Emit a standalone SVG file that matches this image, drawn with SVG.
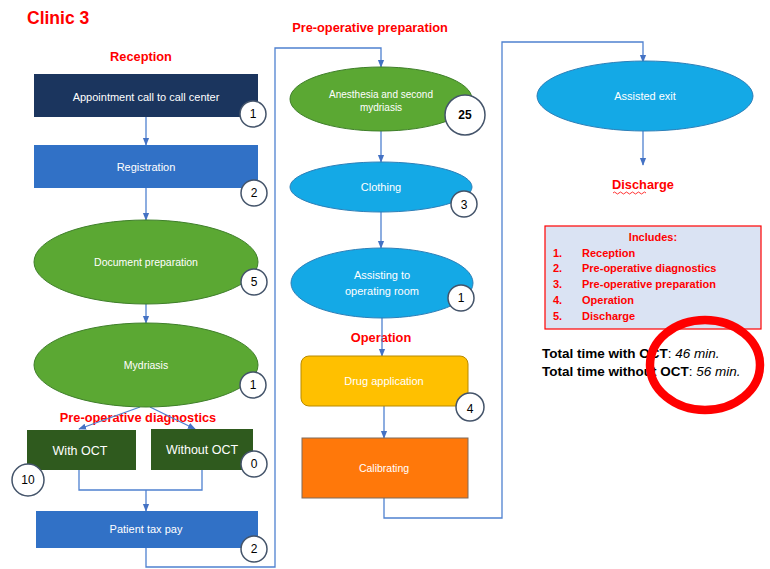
<svg xmlns="http://www.w3.org/2000/svg" width="770" height="569" viewBox="0 0 770 569">
<defs>
<marker id="ah" viewBox="0 0 10 10" refX="9" refY="5" markerWidth="6" markerHeight="6" orient="auto"><path d="M0,1 L10,5 L0,9 z" fill="#4472C4"/></marker>
<style>
.c{fill:none;stroke:#4F81D0;stroke-width:1.3}
.lbl{font-family:"Liberation Sans",Arial,sans-serif;fill:#ffffff;text-anchor:middle}
.sec{font-family:"Liberation Sans",Arial,sans-serif;fill:#FF0000;font-weight:bold;font-size:12.8px;text-anchor:middle}
.b{fill:#ffffff;stroke:#44546A;stroke-width:1.5}
.bt{font-family:"Liberation Sans",Arial,sans-serif;font-size:12px;fill:#000;text-anchor:middle}
.inc{font-family:"Liberation Sans",Arial,sans-serif;font-size:11px;font-weight:bold;fill:#FF0000}
.tot{font-family:"Liberation Sans",Arial,sans-serif;font-size:13.5px;font-weight:bold;fill:#000}
</style>
</defs>
<rect width="770" height="569" fill="#ffffff"/>
<text x="27" y="24" font-family="Liberation Sans,Arial,sans-serif" font-size="17.5" font-weight="bold" fill="#FF0000">Clinic 3</text>
<text class="sec" x="141" y="61">Reception</text>
<text class="sec" x="138" y="422">Pre-operative diagnostics</text>
<text class="sec" x="370" y="32">Pre-operative preparation</text>
<text class="sec" x="381" y="342">Operation</text>
<g id="discharge-label"><text class="sec" x="643" y="189">Discharge</text>
<path d="M613,193 q1.5,-2 3,0 t3,0 t3,0 t3,0 t3,0 t3,0 t3,0 t3,0 t3,0 t3,0 t3,0" fill="none" stroke="#FF0000" stroke-width="0.8"/></g>

<g id="connectors">
<line class="c" x1="146" y1="117" x2="146" y2="145" marker-end="url(#ah)"/>
<line class="c" x1="146" y1="188" x2="146" y2="220" marker-end="url(#ah)"/>
<line class="c" x1="146" y1="304" x2="146" y2="323" marker-end="url(#ah)"/>
<line class="c" x1="140" y1="407" x2="79" y2="429" marker-end="url(#ah)"/>
<line class="c" x1="150" y1="407" x2="195" y2="429" marker-end="url(#ah)"/>
<polyline class="c" points="79,470 79,490 202,490 202,470"/>
<line class="c" x1="146" y1="490" x2="146" y2="511" marker-end="url(#ah)"/>
<polyline class="c" points="146,548 146,567 275,567 275,48 381,48 381,67" marker-end="url(#ah)"/>
<line class="c" x1="381" y1="131" x2="381" y2="162" marker-end="url(#ah)"/>
<line class="c" x1="381" y1="212" x2="381" y2="248" marker-end="url(#ah)"/>
<line class="c" x1="382" y1="318" x2="382" y2="356" marker-end="url(#ah)"/>
<line class="c" x1="384" y1="406" x2="384" y2="438" marker-end="url(#ah)"/>
<polyline class="c" points="384,498 384,518 502,518 502,42 643,42 643,62" marker-end="url(#ah)"/>
<line class="c" x1="643" y1="131" x2="643" y2="165" marker-end="url(#ah)"/>
</g>

<g id="n-appointment">
<rect x="34" y="74" width="224" height="43" fill="#1B355E"/>
<text class="lbl" x="146" y="101" font-size="11">Appointment call to call center</text>
<circle class="b" cx="253" cy="114" r="13"/><text class="bt" x="253" y="118">1</text>
</g>
<g id="n-registration">
<rect x="34" y="145" width="224" height="43" fill="#3171C6"/>
<text class="lbl" x="146" y="171" font-size="11">Registration</text>
<circle class="b" cx="254" cy="193" r="13"/><text class="bt" x="254" y="197">2</text>
</g>
<g id="n-document">
<ellipse cx="146" cy="262" rx="112" ry="42" fill="#5BA833" stroke="#3F7F2A" stroke-width="1"/>
<text class="lbl" x="146" y="266" font-size="10.5">Document preparation</text>
<circle class="b" cx="254" cy="282" r="13"/><text class="bt" x="254" y="286">5</text>
</g>
<g id="n-mydriasis">
<ellipse cx="146" cy="365" rx="112" ry="42" fill="#5BA833" stroke="#3F7F2A" stroke-width="1"/>
<text class="lbl" x="146" y="369" font-size="10.5">Mydriasis</text>
<circle class="b" cx="253" cy="385" r="13"/><text class="bt" x="253" y="389">1</text>
</g>
<g id="n-with-oct">
<rect x="27" y="430" width="109" height="40" fill="#2F5A1E"/>
<text class="lbl" x="80" y="455" font-size="12.5">With OCT</text>
<circle class="b" cx="28" cy="480" r="16"/><text class="bt" x="28" y="484" font-size="11">10</text>
</g>
<g id="n-without-oct">
<rect x="151" y="429" width="102" height="41" fill="#2F5A1E"/>
<text class="lbl" x="202" y="454" font-size="12.5">Without OCT</text>
<circle class="b" cx="254" cy="464" r="13"/><text class="bt" x="254" y="468">0</text>
</g>
<g id="n-tax">
<rect x="36" y="511" width="222" height="37" fill="#3171C6"/>
<text class="lbl" x="146" y="533" font-size="11">Patient tax pay</text>
<circle class="b" cx="254" cy="549" r="13"/><text class="bt" x="254" y="553">2</text>
</g>
<g id="n-anesthesia">
<ellipse cx="381" cy="99" rx="91" ry="32" fill="#5BA833" stroke="#3F7F2A" stroke-width="1"/>
<text class="lbl" x="381" y="98" font-size="10">Anesthesia and second</text>
<text class="lbl" x="381" y="111" font-size="10">mydriasis</text>
<circle class="b" cx="465" cy="115" r="20"/><text class="bt" x="465" y="119" font-size="11" font-weight="bold">25</text>
</g>
<g id="n-clothing">
<ellipse cx="381" cy="187" rx="91" ry="25" fill="#14A9E6" stroke="#2C7FB8" stroke-width="1"/>
<text class="lbl" x="381" y="191" font-size="11">Clothing</text>
<circle class="b" cx="464" cy="204" r="13"/><text class="bt" x="464" y="209" font-size="14">3</text>
</g>
<g id="n-assisting">
<ellipse cx="382" cy="283" rx="91" ry="35" fill="#14A9E6" stroke="#2C7FB8" stroke-width="1"/>
<text class="lbl" x="382" y="279" font-size="11">Assisting to</text>
<text class="lbl" x="382" y="295" font-size="11">operating room</text>
<circle class="b" cx="461" cy="298" r="13"/><text class="bt" x="461" y="302">1</text>
</g>
<g id="n-drug">
<rect x="301" y="356" width="167" height="50" rx="8" fill="#FFC000" stroke="#B88A00" stroke-width="1"/>
<text class="lbl" x="384" y="385" font-size="11">Drug application</text>
<circle class="b" cx="470" cy="407" r="14"/><text class="bt" x="470" y="413" font-size="16">4</text>
</g>
<g id="n-calibrating">
<rect x="302" y="438" width="166" height="60" fill="#FF780A" stroke="#7F6A5A" stroke-width="1"/>
<text class="lbl" x="384" y="472" font-size="10.5">Calibrating</text>
</g>
<g id="n-exit">
<ellipse cx="645" cy="96" rx="108" ry="35" fill="#14A9E6" stroke="#2C7FB8" stroke-width="1"/>
<text class="lbl" x="645" y="100" font-size="11">Assisted exit</text>
</g>
<g id="includes">
<rect x="545" y="226" width="216" height="103" fill="#DAE3F3" stroke="#FF0000" stroke-width="1.2"/>
<text class="inc" x="653" y="241" text-anchor="middle">Includes:</text>
<text class="inc" x="553" y="257">1.</text><text class="inc" x="582" y="257">Reception</text>
<text class="inc" x="553" y="272">2.</text><text class="inc" x="582" y="272">Pre-operative diagnostics</text>
<text class="inc" x="553" y="288">3.</text><text class="inc" x="582" y="288">Pre-operative preparation</text>
<text class="inc" x="553" y="304">4.</text><text class="inc" x="582" y="304">Operation</text>
<text class="inc" x="553" y="320">5.</text><text class="inc" x="582" y="320">Discharge</text>
</g>
<g id="totals">
<text class="tot" x="542" y="358">Total time with OCT<tspan font-weight="normal">: </tspan><tspan font-weight="normal" font-style="italic">46 min.</tspan></text>
<text class="tot" x="542" y="376">Total time without OCT<tspan font-weight="normal">: </tspan><tspan font-weight="normal" font-style="italic">56 min.</tspan></text>
<ellipse cx="705" cy="365" rx="55" ry="45" fill="none" stroke="#FF0000" stroke-width="8.5"/>
</g>
</svg>
